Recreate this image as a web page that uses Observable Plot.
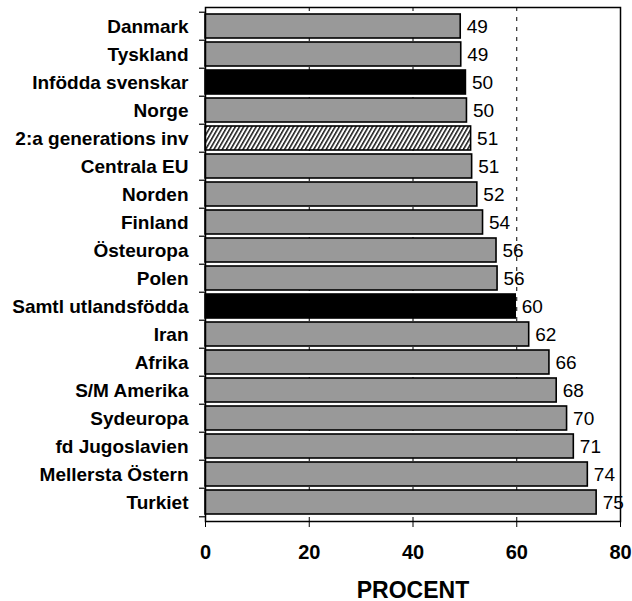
<!DOCTYPE html>
<html>
<head>
<meta charset="utf-8">
<script src="https://cdn.jsdelivr.net/npm/d3@7"></script>
<script src="https://cdn.jsdelivr.net/npm/@observablehq/plot@0.6"></script>
<style>
  html, body { margin: 0; padding: 0; background: #fff; }
</style>
</head>
<body>
<div id="chart"></div>
<script>
const categories = ["Danmark","Tyskland","Infödda svenskar","Norge","2:a generations inv","Centrala EU","Norden","Finland","Östeuropa","Polen","Samtl utlandsfödda","Iran","Afrika","S/M Amerika","Sydeuropa","fd Jugoslavien","Mellersta Östern","Turkiet"];
const values = [49.2,49.3,50.2,50.4,51.2,51.4,52.4,53.5,56.1,56.3,59.8,62.4,66.3,67.7,69.7,71.0,73.7,75.4];
const valueLabels = [49,49,50,50,51,51,52,54,56,56,60,62,66,68,70,71,74,75];
const groups = ["land","land","svensk","land","andra","land","land","land","land","land","utland","land","land","land","land","land","land","land"];
const xTicks = [0,20,40,60,80];
const gridValues = [20,40,60];

const data = categories.map((c, i) => ({cat: c, value: values[i], label: valueLabels[i], group: groups[i]}));

const W = 632, H = 601, mT = 7, mB = 80, mL = 205, mR = 12;
const step = (H - mT - mB) / categories.length;

const svg = Plot.plot({
  width: W, height: H,
  marginTop: mT, marginBottom: mB, marginLeft: mL, marginRight: mR,
  style: {fontFamily: "'Liberation Sans', Arial, sans-serif", background: "#fff", color: "#000"},
  x: {domain: [0, 80]},
  y: {domain: categories, paddingInner: 0.16, paddingOuter: 0.08},
  color: {domain: ["land","svensk","utland","andra"], range: ["#999999","#000000","#000000","url(#hatch)"]},
  marks: [
    Plot.ruleX(gridValues, {stroke: "#000", strokeWidth: 1, strokeDasharray: "4,6"}),
    Plot.barX(data, {x: "value", y: "cat", fill: "group", stroke: "#000", strokeWidth: 1.6}),
    Plot.text(data, {x: "value", y: "cat", text: "label", dx: 6, textAnchor: "start", fontSize: 19, fill: "#000"}),
    Plot.frame({stroke: "#000", strokeWidth: 1.5}),
    Plot.axisY({tickSize: 0, tickPadding: 17, fontSize: 19, fontWeight: "bold", label: null}),
    Plot.ruleY(categories, {y: d => d, x1: -1.16, x2: 0, dy: -step / 2, stroke: "#000", strokeWidth: 1.2, clip: false}),
    Plot.ruleY(categories.slice(-1), {y: d => d, x1: -1.16, x2: 0, dy: step / 2, stroke: "#000", strokeWidth: 1.2, clip: false}),
    Plot.axisX({ticks: xTicks, tickSize: 6, tickPadding: 17, fontSize: 20, fontWeight: "bold", label: null}),
    Plot.text(["PROCENT"], {frameAnchor: "bottom", text: d => d, dy: 76, lineAnchor: "bottom", fontSize: 23, fontWeight: "bold", fill: "#000"})
  ]
});

const defs = d3.select(svg).insert("defs", ":first-child");
const pat = defs.append("pattern")
  .attr("id", "hatch")
  .attr("patternUnits", "userSpaceOnUse")
  .attr("width", 3.6).attr("height", 3.6)
  .attr("patternTransform", "rotate(30)");
pat.append("rect").attr("width", 3.6).attr("height", 3.6).attr("fill", "#fff");
pat.append("line").attr("x1", 0.8).attr("y1", 0).attr("x2", 0.8).attr("y2", 3.6)
  .attr("stroke", "#000").attr("stroke-width", 1.4);

document.getElementById("chart").appendChild(svg);
</script>
</body>
</html>
